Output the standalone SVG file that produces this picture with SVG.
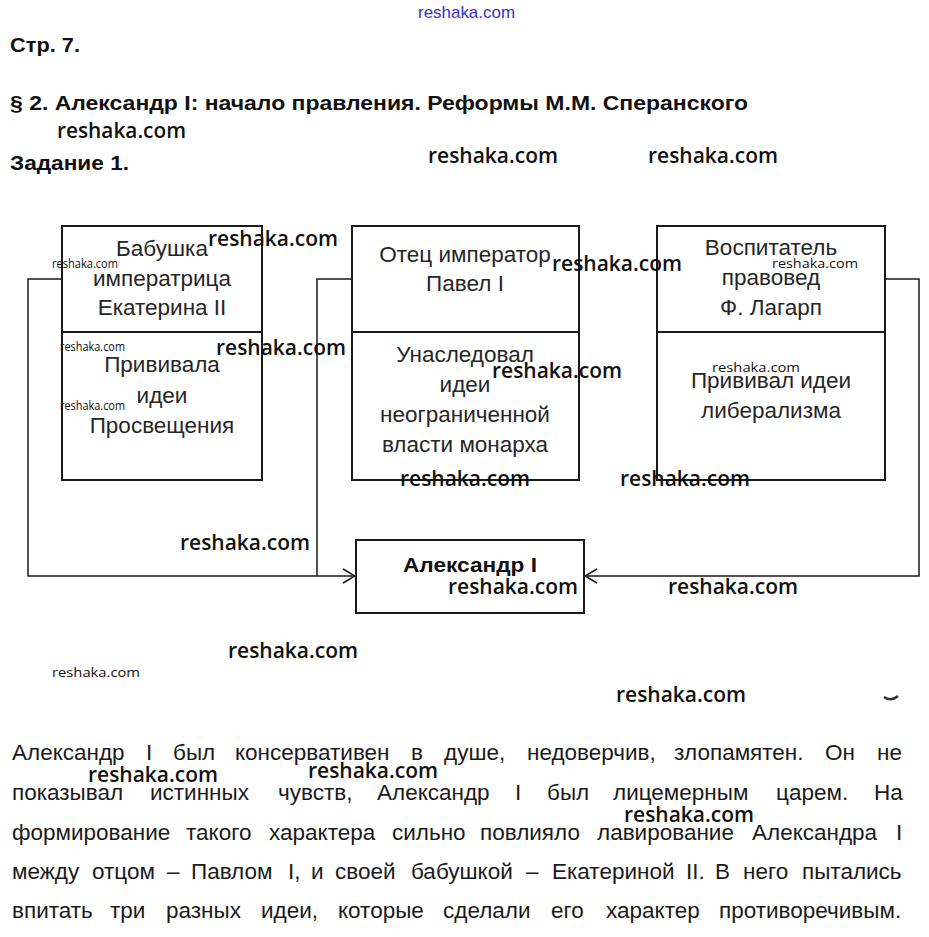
<svg xmlns="http://www.w3.org/2000/svg" width="929" height="937" viewBox="0 0 929 937">
<defs>
<style>
.bg{fill:#fff}
.box{fill:none;stroke:#1a1a1a;stroke-width:2}
.con{fill:none;stroke:#1a1a1a;stroke-width:1.5}
.t{font-family:"Liberation Sans",Arial,sans-serif;font-size:22.5px;fill:#262626;text-anchor:middle}
.h{font-family:"Liberation Sans",Arial,sans-serif;font-size:21px;font-weight:bold;fill:#111}
.p{font-family:"Liberation Sans",Arial,sans-serif;font-size:22.5px;fill:#1a1a1a}
.w{font-family:"Open Sans","DejaVu Sans",sans-serif;font-weight:600;font-size:21px;fill:#111}
.ws{font-family:"Open Sans","DejaVu Sans",sans-serif;font-size:12px;fill:#111}
</style>
<marker id="arr" viewBox="0 0 14 16" refX="13" refY="8" markerWidth="14" markerHeight="16" markerUnits="userSpaceOnUse" orient="auto">
<path d="M1,1 L13,8 L1,15" fill="none" stroke="#1a1a1a" stroke-width="1.5"/>
</marker>
</defs>
<rect class="bg" x="0" y="0" width="929" height="937"/>

<text x="418" y="18" font-family="'Liberation Sans',Arial,sans-serif" font-size="17" fill="#3333cc" textLength="97" lengthAdjust="spacingAndGlyphs">reshaka.com</text>
<text class="h" x="10" y="52" textLength="70" lengthAdjust="spacingAndGlyphs">Стр. 7.</text>
<text class="h" x="10" y="110" textLength="738" lengthAdjust="spacingAndGlyphs">§ 2. Александр I: начало правления. Реформы М.М. Сперанского</text>
<text class="h" x="10" y="170" textLength="119" lengthAdjust="spacingAndGlyphs">Задание 1.</text>

<g id="connectors">
<path class="con" d="M62,279 H28 V576 H355" marker-end="url(#arr)"/>
<path class="con" d="M352,279 H317 V576"/>
<path class="con" d="M885,279 H919 V576 H585" marker-end="url(#arr)"/>
</g>

<g id="node-ekaterina">
<rect class="box" x="62" y="226" width="200" height="254"/>
<line class="box" x1="62" y1="332" x2="262" y2="332"/>
<text class="t" x="162" y="256">Бабушка</text>
<text class="t" x="162" y="286">императрица</text>
<text class="t" x="162" y="315">Екатерина II</text>
<text class="t" x="162" y="372">Прививала</text>
<text class="t" x="162" y="403">идеи</text>
<text class="t" x="162" y="433">Просвещения</text>
</g>

<g id="node-pavel">
<rect class="box" x="352" y="226" width="227" height="254"/>
<line class="box" x1="352" y1="332" x2="579" y2="332"/>
<text class="t" x="465" y="262">Отец император</text>
<text class="t" x="465" y="291">Павел I</text>
<text class="t" x="465" y="362">Унаследовал</text>
<text class="t" x="465" y="392">идеи</text>
<text class="t" x="465" y="422">неограниченной</text>
<text class="t" x="465" y="452">власти монарха</text>
</g>

<g id="node-lagarp">
<rect class="box" x="657" y="226" width="228" height="254"/>
<line class="box" x1="657" y1="332" x2="885" y2="332"/>
<text class="t" x="771" y="255">Воспитатель</text>
<text class="t" x="771" y="285">правовед</text>
<text class="t" x="771" y="315">Ф. Лагарп</text>
<text class="t" x="771" y="388">Прививал идеи</text>
<text class="t" x="771" y="418">либерализма</text>
</g>

<g id="node-alexander">
<rect class="box" x="356" y="540" width="228" height="73"/>
<text class="h" x="470" y="572" text-anchor="middle" textLength="134" lengthAdjust="spacingAndGlyphs">Александр I</text>
</g>

<g id="paragraph">
<text class="p" y="760"><tspan x="12">Александр</tspan><tspan x="146">I</tspan><tspan x="173">был</tspan><tspan x="235">консервативен</tspan><tspan x="411">в</tspan><tspan x="444">душе,</tspan><tspan x="527">недоверчив,</tspan><tspan x="674">злопамятен.</tspan><tspan x="825">Он</tspan><tspan x="877">не</tspan></text>
<text class="p" y="800"><tspan x="12">показывал</tspan><tspan x="150">истинных</tspan><tspan x="278">чувств,</tspan><tspan x="377">Александр</tspan><tspan x="515">I</tspan><tspan x="547">был</tspan><tspan x="613">лицемерным</tspan><tspan x="776">царем.</tspan><tspan x="874">На</tspan></text>
<text class="p" y="840"><tspan x="12">формирование</tspan><tspan x="186">такого</tspan><tspan x="269">характера</tspan><tspan x="392">сильно</tspan><tspan x="480">повлияло</tspan><tspan x="597">лавирование</tspan><tspan x="752">Александра</tspan><tspan x="896">I</tspan></text>
<text class="p" y="879"><tspan x="12">между</tspan><tspan x="92">отцом</tspan><tspan x="167">–</tspan><tspan x="191">Павлом</tspan><tspan x="288">I,</tspan><tspan x="311">и</tspan><tspan x="335">своей</tspan><tspan x="411">бабушкой</tspan><tspan x="526">–</tspan><tspan x="552">Екатериной</tspan><tspan x="686">II.</tspan><tspan x="715">В</tspan><tspan x="743">него</tspan><tspan x="802">пытались</tspan></text>
<text class="p" y="918"><tspan x="12">впитать</tspan><tspan x="110">три</tspan><tspan x="166">разных</tspan><tspan x="261">идеи,</tspan><tspan x="338">которые</tspan><tspan x="443">сделали</tspan><tspan x="551">его</tspan><tspan x="606">характер</tspan><tspan x="719">противоречивым.</tspan></text>
</g>

<path d="M884,697 Q891,702 898,696" fill="none" stroke="#333" stroke-width="2.5"/>

<g id="watermarks">
<text class="w" x="57" y="138" textLength="129" lengthAdjust="spacingAndGlyphs">reshaka.com</text>
<text class="w" x="428" y="163" textLength="130" lengthAdjust="spacingAndGlyphs">reshaka.com</text>
<text class="w" x="648" y="163" textLength="130" lengthAdjust="spacingAndGlyphs">reshaka.com</text>
<text class="w" x="208" y="246" textLength="130" lengthAdjust="spacingAndGlyphs">reshaka.com</text>
<text class="ws" x="52" y="268" textLength="66" lengthAdjust="spacingAndGlyphs">reshaka.com</text>
<text class="w" x="552" y="271" textLength="130" lengthAdjust="spacingAndGlyphs">reshaka.com</text>
<text class="ws" x="772" y="268" font-size="14" textLength="86" lengthAdjust="spacingAndGlyphs">reshaka.com</text>
<text class="ws" x="60" y="351" textLength="65" lengthAdjust="spacingAndGlyphs">reshaka.com</text>
<text class="w" x="216" y="355" textLength="130" lengthAdjust="spacingAndGlyphs">reshaka.com</text>
<text class="ws" x="60" y="410" textLength="65" lengthAdjust="spacingAndGlyphs">reshaka.com</text>
<text class="w" x="492" y="378" textLength="130" lengthAdjust="spacingAndGlyphs">reshaka.com</text>
<text class="ws" x="712" y="372" font-size="14" textLength="88" lengthAdjust="spacingAndGlyphs">reshaka.com</text>
<text class="w" x="400" y="486" textLength="130" lengthAdjust="spacingAndGlyphs">reshaka.com</text>
<text class="w" x="620" y="486" textLength="130" lengthAdjust="spacingAndGlyphs">reshaka.com</text>
<text class="w" x="180" y="550" textLength="130" lengthAdjust="spacingAndGlyphs">reshaka.com</text>
<text class="w" x="448" y="594" textLength="130" lengthAdjust="spacingAndGlyphs">reshaka.com</text>
<text class="w" x="668" y="594" textLength="130" lengthAdjust="spacingAndGlyphs">reshaka.com</text>
<text class="w" x="228" y="658" textLength="130" lengthAdjust="spacingAndGlyphs">reshaka.com</text>
<text class="ws" x="52" y="677" font-size="14" textLength="88" lengthAdjust="spacingAndGlyphs">reshaka.com</text>
<text class="w" x="616" y="702" textLength="130" lengthAdjust="spacingAndGlyphs">reshaka.com</text>
<text class="w" x="88" y="782" textLength="130" lengthAdjust="spacingAndGlyphs">reshaka.com</text>
<text class="w" x="308" y="778" textLength="130" lengthAdjust="spacingAndGlyphs">reshaka.com</text>
<text class="w" x="624" y="822" textLength="130" lengthAdjust="spacingAndGlyphs">reshaka.com</text>
</g>
</svg>
